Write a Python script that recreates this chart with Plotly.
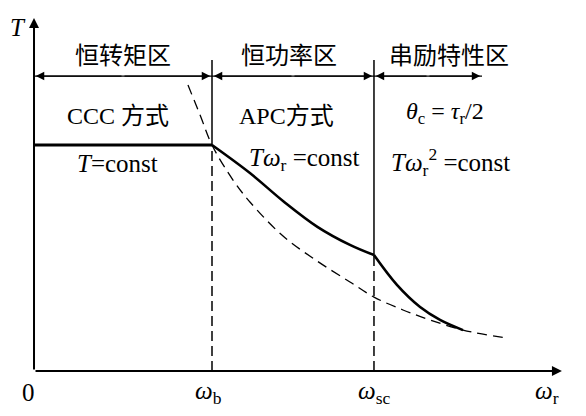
import plotly.graph_objects as go

# ---- data (normalised units: omega_b = 1, rated torque = 1) ----
omega_b = 1.0
omega_sc = 1.91
T_rated = 1.0

# constant-torque segment
w_flat = [0.0, 1.0]
T_flat = [1.0, 1.0]
# constant-power (APC) segment
w_apc = [1.0, 1.213, 1.404, 1.592, 1.775, 1.910]
T_apc = [1.0, 0.876, 0.749, 0.638, 0.558, 0.513]
# series-excitation segment
w_ser = [1.910, 2.039, 2.169, 2.281, 2.410]
T_ser = [0.513, 0.381, 0.283, 0.226, 0.181]
# dashed reference curve
w_dash = [0.865, 0.933, 1.0, 1.118, 1.213, 1.399, 1.590, 1.775, 1.910, 2.073, 2.225, 2.410, 2.657]
T_dash = [1.265, 1.133, 1.0, 0.845, 0.748, 0.597, 0.487, 0.394, 0.327, 0.270, 0.226, 0.181, 0.146]

region_names = ["恒转矩区", "恒功率区", "串励特性区"]
region_bounds = [0.0, 1.0, 1.91, 2.517]
mode_texts = ["CCC 方式", "APC方式", "<i>θ</i><sub>c</sub> = <i>τ</i><sub>r</sub>/2"]
law_texts = ["<i>T</i>=const", "<i>Tω</i><sub>r</sub> =const", "<i>Tω</i><sub>r</sub><sup>2</sup> =const"]
tick_labels = ["0", "<i>ω</i><sub>b</sub>", "<i>ω</i><sub>sc</sub>"]
tick_pos = [-0.03, 0.98, 1.91]

x_max = 2.966
y_max = 1.562
y_top = 1.376
y_arrow = 1.305

FONT = "Liberation Serif, Times New Roman, Noto Sans CJK SC, serif"
BLACK = "#000000"

fig = go.Figure()

def line(x, y, width=1.5, dash="solid", shape="linear"):
    fig.add_trace(go.Scatter(x=x, y=y, mode="lines", showlegend=False, hoverinfo="skip",
                             line=dict(color=BLACK, width=width, dash=dash, shape=shape)))

# dashed curve
line(w_dash, T_dash, width=1.3, dash="10px,6px", shape="spline")
# vertical boundaries
line([omega_b, omega_b], [0, T_rated], width=1.5, dash="10px,5px")
line([omega_b, omega_b], [T_rated, y_top], width=1.5)
line([omega_sc, omega_sc], [0, T_apc[-1]], width=1.5, dash="10px,5px")
line([omega_sc, omega_sc], [T_apc[-1], y_top], width=1.5)
# characteristic
line(w_flat, T_flat, width=3)
line(w_apc, T_apc, width=2.6, shape="spline")
line(w_ser, T_ser, width=2.6, shape="spline")
# horizontal region line
line([0, region_bounds[-1]], [y_arrow, y_arrow], width=1.3)

ann = []
def arrow(x_tip, y_tip, x_tail, y_tail, w=1.3, head=2, size=1.2):
    ann.append(dict(x=x_tip, y=y_tip, ax=x_tail, ay=y_tail, xref="x", yref="y", axref="x", ayref="y",
                    text="", showarrow=True, arrowhead=head, arrowsize=size, arrowwidth=w,
                    arrowcolor=BLACK, standoff=0, startstandoff=0))

# axes
arrow(x_max, 0, 0, 0, w=2, head=2, size=1.0)
arrow(0, y_max, 0, 0, w=2, head=2, size=1.0)

# double arrows for regions
for i in range(3):
    a, b = region_bounds[i], region_bounds[i + 1]
    m = (a + b) / 2
    arrow(a + 0.01, y_arrow, m, y_arrow, w=1.3, head=2, size=1.3)
    arrow(b - 0.01, y_arrow, m, y_arrow, w=1.3, head=2, size=1.3)

def text(x, y, s, size=22, xanchor="center"):
    ann.append(dict(x=x, y=y, xref="x", yref="y", text=s, showarrow=False, xanchor=xanchor,
                    yanchor="middle", font=dict(family=FONT, size=size, color=BLACK)))

centers = [0.5, 1.43, 2.33]
for c, s in zip(centers, region_names):
    text(c, 1.395, s, size=24)
mode_c = [0.47, 1.42, 2.31]
mode_y = [1.13, 1.13, 1.14]
for c, yy, s in zip(mode_c, mode_y, mode_texts):
    text(c, yy, s, size=24)
law_c = [0.47, 1.52, 2.34]
law_y = [0.92, 0.935, 0.925]
for c, yy, s in zip(law_c, law_y, law_texts):
    text(c, yy, s, size=25)

for p, s in zip(tick_pos, tick_labels):
    text(p, -0.095, s, size=25)
text(2.88, -0.095, "<i>ω</i><sub>r</sub>", size=25)
text(-0.09, 1.52, "<i>T</i>", size=25)

# The page body has an 8px margin; size and range are set so that the
# drawing lands where the reference has it inside the 586x416 window.
fig.update_layout(
    width=570, height=400,
    margin=dict(l=0, r=0, t=0, b=0),
    paper_bgcolor="white", plot_bgcolor="white",
    xaxis=dict(range=[-0.1461, 3.0562], visible=False, fixedrange=True),
    yaxis=dict(range=[-0.1637, 1.6062], visible=False, fixedrange=True),
    annotations=ann,
    showlegend=False,
)

fig.write_html("out.html")
